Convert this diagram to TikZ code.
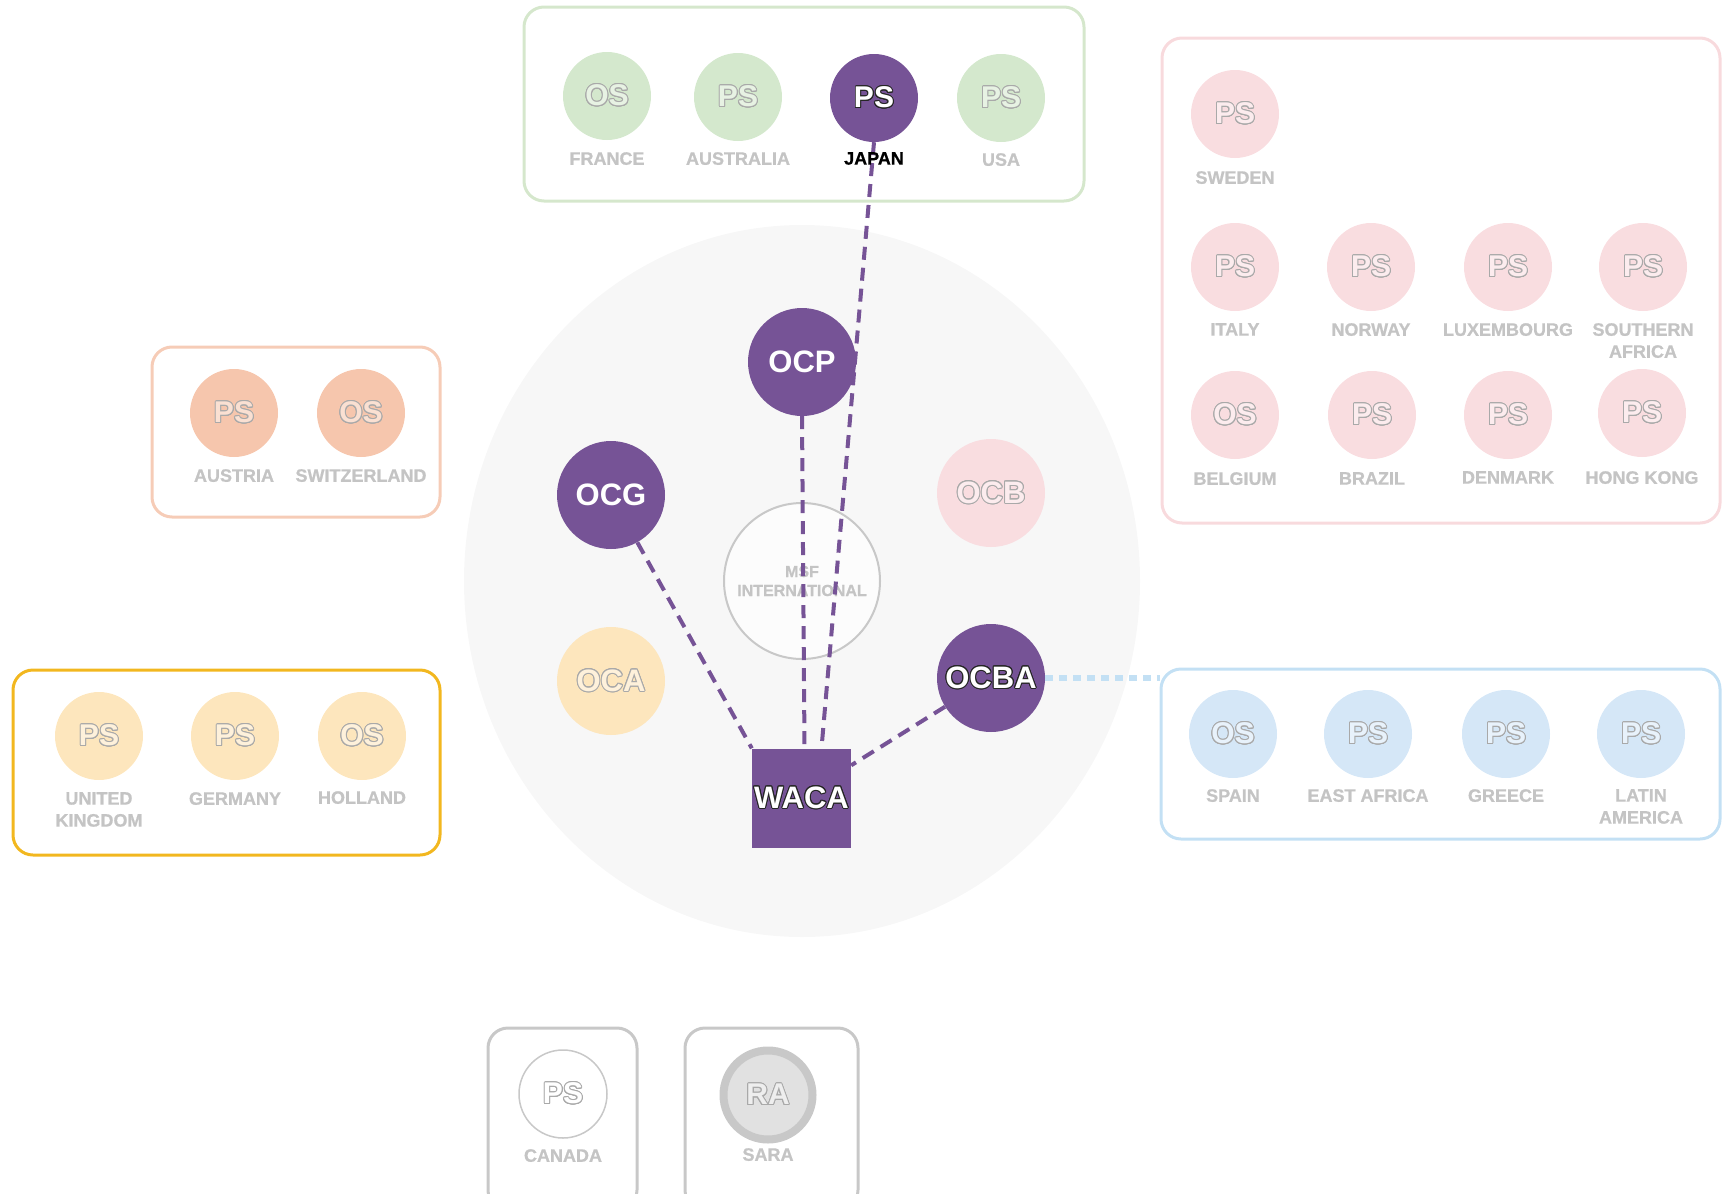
\documentclass[tikz,border=0pt]{standalone}
\usepackage{fontspec}
\setmainfont{Liberation Sans}
\newfontfamily\lblfam{Liberation Sans}[BoldFeatures={FakeBold=0.8}]
\usepackage[copies]{contour}
\contourlength{1pt}
\usetikzlibrary{calc,shapes.geometric}
\definecolor{purp}{HTML}{765396}
\definecolor{grn}{HTML}{D4E8CD}
\definecolor{grnbd}{HTML}{D5E7CC}
\definecolor{pnk}{HTML}{F9DDE0}
\definecolor{pnkbd}{HTML}{F8DADD}
\definecolor{pch}{HTML}{F6C6AD}
\definecolor{pchbd}{HTML}{F6CCB7}
\definecolor{yel}{HTML}{FDE6BD}
\definecolor{yelbd}{HTML}{F2B71F}
\definecolor{blu}{HTML}{D5E7F7}
\definecolor{blubd}{HTML}{C3E0F4}
\definecolor{bgc}{HTML}{F7F7F7}
\definecolor{lblgray}{HTML}{C4C4C4}
\definecolor{grayline}{HTML}{C8C8C8}
\definecolor{ghostline}{HTML}{A9A9A9}
\newcommand\lblfont{\lblfam\fontsize{18}{22}\selectfont\bfseries}
\newcommand\psfont{\fontsize{30}{32}\selectfont\bfseries}
\newcommand\ocfont{\fontsize{31}{33}\selectfont\bfseries}
\newcommand\ghost[2]{\contour{ghostline}{\textcolor{#1!55!white}{#2}}}
\newcommand\whiteout[1]{\contour{black!85}{\textcolor{white}{#1}}}
\pgfdeclarelayer{back}\pgfdeclarelayer{mid}\pgfsetlayers{back,mid,main}
\tikzset{
  ctry/.style={circle, minimum size=88pt, inner sep=0pt, fill=#1, font=\psfont},
  oc/.style={circle, minimum size=108pt, inner sep=0pt, fill=#1, font=\ocfont},
  lbl/.style={anchor=north, inner sep=0pt, font=\lblfont, text=lblgray, align=center},
  grp/.style={draw=#1, line width=3pt, rounded corners=20pt, inner sep=0pt},
  link/.style={draw=purp, line width=4pt, dash pattern=on 13pt off 8pt},
  bluelink/.style={draw=blubd, line width=6pt, dash pattern=on 8pt off 6pt},
}
\begin{document}
\begin{tikzpicture}[x=1pt,y=-1pt]
\useasboundingbox (0,0) rectangle (1722,1194);
% background disk
\begin{pgfonlayer}{back}
\node[ellipse, fill=bgc, minimum width=676pt, minimum height=712pt, inner sep=0pt] (disk) at (802,581) {};
\node[circle, draw=grayline, line width=2pt, fill=white!60!bgc, minimum size=156pt, inner sep=0pt,
  font=\lblfam\fontsize{16}{19}\selectfont\bfseries, text=lblgray, align=center] (msf) at (802,581) {MSF\\INTERNATIONAL};
\end{pgfonlayer}
% group boxes
\node[grp=grnbd, minimum width=560pt, minimum height=194pt] (gbox) at (804,104) {};
\node[grp=pnkbd, minimum width=558pt, minimum height=485pt] (pbox) at (1441,280.5) {};
\node[grp=pchbd, minimum width=288pt, minimum height=170pt] (abox) at (296,432) {};
\node[grp=yelbd, minimum width=427pt, minimum height=185pt] (ybox) at (226.5,762.5) {};
\node[grp=blubd, minimum width=559pt, minimum height=170pt] (bbox) at (1440.5,754) {};
\node[grp=grayline, minimum width=149pt, minimum height=182pt] (cbox) at (562.5,1119) {};
\node[grp=grayline, minimum width=173pt, minimum height=182pt] (sbox) at (771.5,1119) {};
% green group
\node[ctry=grn] (france) at (607,96) {\ghost{grn}{OS}};
\node[ctry=grn] (australia) at (738,97) {\ghost{grn}{PS}};
\node[ctry=purp] (japan) at (874,98) {\whiteout{PS}};
\node[ctry=grn] (usa) at (1001,98) {\ghost{grn}{PS}};
\node[lbl] (lfrance) at (607,152) {FRANCE};
\node[lbl] (laustralia) at (738,152) {AUSTRALIA};
\node[lbl, text=black] (ljapan) at (874,152) {JAPAN};
\node[lbl] (lusa) at (1001,153) {USA};
% pink group
\node[ctry=pnk] (sweden) at (1235,114) {\ghost{pnk}{PS}};
\node[ctry=pnk] (italy) at (1235,267) {\ghost{pnk}{PS}};
\node[ctry=pnk] (norway) at (1371,267) {\ghost{pnk}{PS}};
\node[ctry=pnk] (luxembourg) at (1508,267) {\ghost{pnk}{PS}};
\node[ctry=pnk] (safrica) at (1643,267) {\ghost{pnk}{PS}};
\node[ctry=pnk] (belgium) at (1235,415) {\ghost{pnk}{OS}};
\node[ctry=pnk] (brazil) at (1372,415) {\ghost{pnk}{PS}};
\node[ctry=pnk] (denmark) at (1508,415) {\ghost{pnk}{PS}};
\node[ctry=pnk] (hongkong) at (1642,413) {\ghost{pnk}{PS}};
\node[lbl] (lsweden) at (1235,171) {SWEDEN};
\node[lbl] (litaly) at (1235,323) {ITALY};
\node[lbl] (lnorway) at (1371,323) {NORWAY};
\node[lbl] (lluxembourg) at (1508,323) {LUXEMBOURG};
\node[lbl] (lsafrica) at (1643,323) {SOUTHERN\\AFRICA};
\node[lbl] (lbelgium) at (1235,472) {BELGIUM};
\node[lbl] (lbrazil) at (1372,472) {BRAZIL};
\node[lbl] (ldenmark) at (1508,471) {DENMARK};
\node[lbl] (lhongkong) at (1642,471) {HONG KONG};
% peach group
\node[ctry=pch] (austria) at (234,413) {\ghost{pch}{PS}};
\node[ctry=pch] (switzerland) at (361,413) {\ghost{pch}{OS}};
\node[lbl] (laustria) at (234,469) {AUSTRIA};
\node[lbl] (lswitzerland) at (361,469) {SWITZERLAND};
% yellow group
\node[ctry=yel] (uk) at (99,736) {\ghost{yel}{PS}};
\node[ctry=yel] (germany) at (235,736) {\ghost{yel}{PS}};
\node[ctry=yel] (holland) at (362,736) {\ghost{yel}{OS}};
\node[lbl] (luk) at (99,792) {UNITED\\KINGDOM};
\node[lbl] (lgermany) at (235,792) {GERMANY};
\node[lbl] (lholland) at (362,791) {HOLLAND};
% blue group
\node[ctry=blu] (spain) at (1233,734) {\ghost{blu}{OS}};
\node[ctry=blu] (eafrica) at (1368,734) {\ghost{blu}{PS}};
\node[ctry=blu] (greece) at (1506,734) {\ghost{blu}{PS}};
\node[ctry=blu] (latam) at (1641,734) {\ghost{blu}{PS}};
\node[lbl] (lspain) at (1233,789) {SPAIN};
\node[lbl] (leafrica) at (1368,789) {EAST AFRICA};
\node[lbl] (lgreece) at (1506,789) {GREECE};
\node[lbl] (llatam) at (1641,789) {LATIN\\AMERICA};
% canada / sara
\node[ctry=white, draw=grayline, line width=1.5pt] (canada) at (563,1094) {\ghost{white}{PS}};
\node[ctry=grayline!55!white, draw=grayline, line width=8pt, minimum size=89pt] (sara) at (768,1095) {\ghost{grayline!55!white}{RA}};
\node[lbl] (lcanada) at (563,1149) {CANADA};
\node[lbl] (lsara) at (768,1148) {SARA};
% operational centres
\node[oc=purp, text=white] (ocp) at (802,362) {OCP};
\node[oc=purp, text=white] (ocg) at (611,495) {OCG};
\node[oc=pnk] (ocb) at (991,493) {\ghost{pnk}{OCB}};
\node[oc=yel] (oca) at (611,681) {\ghost{yel}{OCA}};
\node[oc=purp] (ocba) at (991,678) {\whiteout{OCBA}};
\node[rectangle, fill=purp, minimum size=99pt, inner sep=0pt, font=\ocfont] (waca) at (801.5,798) {\whiteout{WACA}};
% connectors
\begin{pgfonlayer}{mid}
\draw[link] (japan.south) -- ($(waca.north)+(20,0)$);
\draw[link] (ocp.south) -- ($(waca.north)+(3,0)$);
\draw[link] (ocg) -- (waca.north west);
\draw[link] (ocba) -- ($(waca.north east)+(0,17)$);
\draw[bluelink] (ocba.east) -- (ocba.east -| bbox.west);
\end{pgfonlayer}
\end{tikzpicture}
\end{document}
